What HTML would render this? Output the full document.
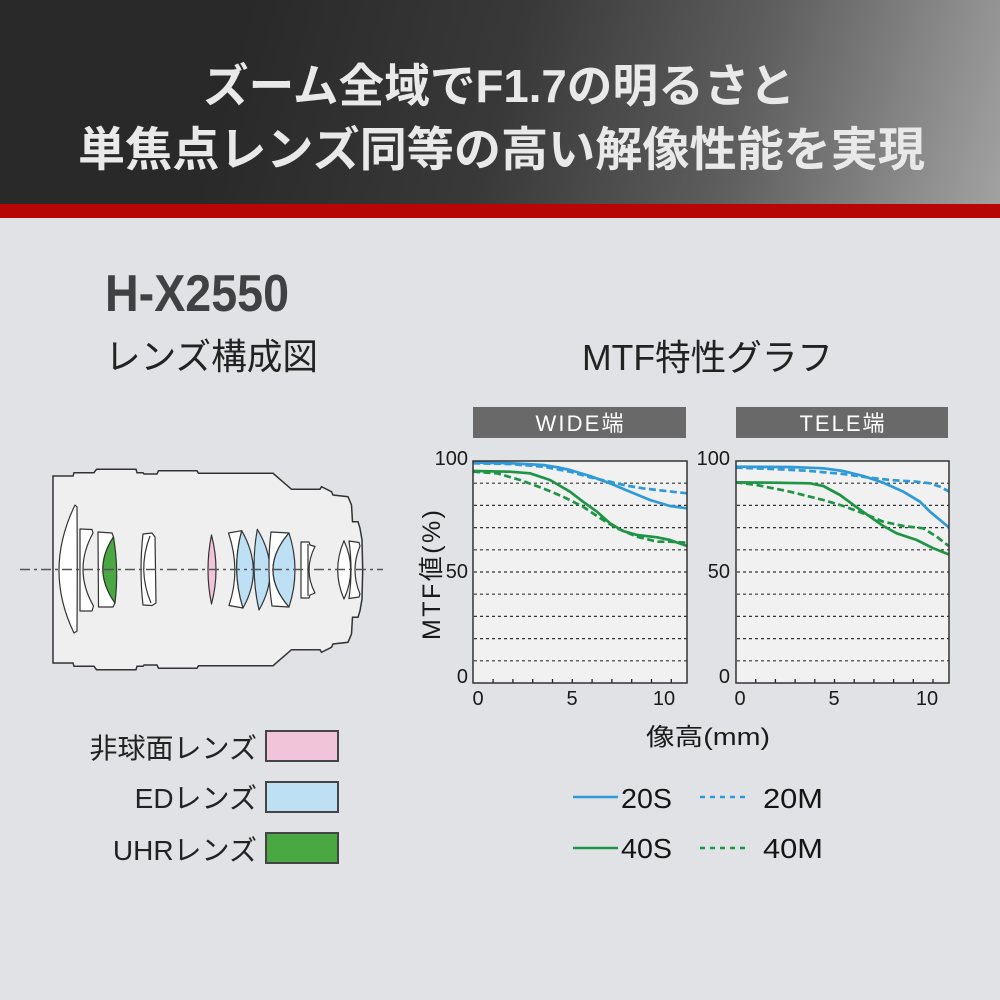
<!DOCTYPE html>
<html><head><meta charset="utf-8"><style>
html,body{margin:0;padding:0;background:#e1e2e5;}
svg{display:block;}
text{font-family:"Liberation Sans","Noto Sans CJK JP",sans-serif;}
</style></head><body>
<svg width="1000" height="1000" viewBox="0 0 1000 1000" xmlns="http://www.w3.org/2000/svg">
<defs>
<linearGradient id="hg" gradientUnits="userSpaceOnUse" x1="250" y1="0" x2="1000" y2="210">
<stop offset="0" stop-color="#292929"/>
<stop offset="0.35" stop-color="#393939"/>
<stop offset="0.65" stop-color="#5e5e5e"/>
<stop offset="1" stop-color="#a2a2a2"/>
</linearGradient>
<clipPath id="cw"><rect x="473" y="461" width="214" height="222"/></clipPath>
<clipPath id="ct"><rect x="736" y="461" width="213" height="222"/></clipPath>
</defs>
<rect x="0" y="0" width="1000" height="1000" fill="#e1e2e5"/>
<rect x="0" y="0" width="1000" height="205" fill="url(#hg)"/>
<rect x="0" y="204" width="1000" height="14" fill="#b80505"/>
<text x="203" y="102" font-size="46" font-weight="bold" fill="#e9e9e9" textLength="592" lengthAdjust="spacingAndGlyphs">ズーム全域でF1.7の明るさと</text>
<text x="78" y="166" font-size="47" font-weight="bold" fill="#e9e9e9" textLength="847" lengthAdjust="spacingAndGlyphs">単焦点レンズ同等の高い解像性能を実現</text>
<text x="105" y="311" font-size="52" font-weight="bold" fill="#3f4143" textLength="184" lengthAdjust="spacingAndGlyphs">H-X2550</text>
<text x="105" y="369" font-size="36" fill="#222" textLength="213" lengthAdjust="spacingAndGlyphs">レンズ構成図</text>
<text x="582" y="370" font-size="36" fill="#222" textLength="251" lengthAdjust="spacingAndGlyphs">MTF特性グラフ</text>
<path d="M53,476 L73,476 L74,472.7 L94,472.7 L96.5,469.3 L136,469.3 L137,472.7 L143,472.7 L144,474 L157,474 L158.5,470.7 L197,470.7 L198.5,473.3 L273,473.3 L291.5,489.3 L320,489.3 L321.5,486.7 L331.5,491.7 L333,495 L348,496.7 L351.5,505 L352.5,521.7 L358,521.7 L360,528.3 L362,540 L362.7,569.5 L362,599 L360,610.7 L358,617.3 L352.5,617.3 L351.5,634 L348,642.3 L333,644 L331.5,647.3 L321.5,652.3 L320,649.7 L291.5,649.7 L273,665.7 L198.5,665.7 L197,668.3 L158.5,668.3 L157,665 L144,665 L143,666.3 L137,666.3 L136,669.7 L96.5,669.7 L94,666.3 L74,666.3 L73,663 L53,663 Z" fill="#efefef" stroke="#333" stroke-width="1.5"/>
<g stroke="#333" stroke-width="1.2" fill="#fff" stroke-linejoin="round">
<path d="M75,505 Q43.5,570 74,633 L77,631 Q77.5,570 77,507 Z"/>
<path d="M80,529 L92,529.5 L93,533 Q72.75,570 93.5,606 L92,611 L80,611 Z"/>
<path d="M98,532 L112,533 L113.5,537 Q91.5,570 115,603 L113,607 L98.5,607 Z"/>
<path d="M113.5,537 Q91.5,570 115,603 Q119,570 113.5,537 Z" fill="#4aa843"/>
<path d="M143,534 L152,533 L155,537 L156,603 L152,605.5 L143,605 Q139,570 143,534 Z"/>
<path d="M150,536 Q137,570 151,603" fill="none"/>
<path d="M211.5,535 Q204.5,570 211.5,604 Q220.5,570 211.5,535 Z" fill="#f2c4d9"/>
<path d="M228.5,533 L241.7,530.7 Q231,570 243,608 L229,605.5 Q241,570 228.5,533 Z"/>
<path d="M241.7,530.7 Q231,570 243,608 Q264.3,570 241.7,530.7 Z" fill="#bde0f5"/>
<path d="M257.3,529.3 Q250,570 259,610 Q282,570 257.3,529.3 Z" fill="#bde0f5"/>
<path d="M271,532 L289,533 Q257,570 289,607 L272,606 Q266.5,570 271,532 Z"/>
<path d="M289,533 Q257,570 289,607 Q301,570 289,533 Z" fill="#bde0f5"/>
<path d="M301,542 L309,542 L310,545 L315,546.5 Q303,570 315,593 L310,595 L309,598 L301,598 Z"/>
<path d="M308,544 L308,596" fill="none"/>
<path d="M344,540.7 Q331.4,570 344,599 Q357.4,570 344,540.7 Z"/>
<path d="M349,541 L359,542.5 L360,546 Q350,570 360,594 L359,597 L349,598.5 Q353,570 349,541 Z"/>
</g>
<line x1="20" y1="569.5" x2="383" y2="569.5" stroke="#555" stroke-width="1.5" stroke-dasharray="10 4 3 4"/>
<rect x="266" y="731" width="72" height="30" fill="#f2c4d9" stroke="#444" stroke-width="2"/>
<rect x="266" y="782" width="72" height="30" fill="#bde0f5" stroke="#444" stroke-width="2"/>
<rect x="266" y="833" width="72" height="30" fill="#4aa843" stroke="#444" stroke-width="2"/>
<g font-size="28" fill="#222" text-anchor="end">
<text x="257" y="758">非球面レンズ</text>
<text x="257" y="808">EDレンズ</text>
<text x="257" y="860">UHRレンズ</text>
</g>
<!-- WIDE chart -->
<rect x="473" y="407" width="213" height="31" fill="#696969"/>
<text x="579.5" y="431" font-size="22" fill="#fff" text-anchor="middle" textLength="88" lengthAdjust="spacing">WIDE端</text>
<rect x="473" y="461" width="214" height="222" fill="#f1f1f1"/>
<g stroke="#333" stroke-width="1.2" stroke-dasharray="3 3">
<line x1="474" y1="483.2" x2="687" y2="483.2"/><line x1="474" y1="505.4" x2="687" y2="505.4"/><line x1="474" y1="527.6" x2="687" y2="527.6"/><line x1="474" y1="549.8" x2="687" y2="549.8"/><line x1="474" y1="572" x2="687" y2="572"/><line x1="474" y1="594.2" x2="687" y2="594.2"/><line x1="474" y1="616.4" x2="687" y2="616.4"/><line x1="474" y1="638.6" x2="687" y2="638.6"/><line x1="474" y1="660.8" x2="687" y2="660.8"/>
</g>
<g stroke="#222" stroke-width="1.3">
<line x1="493.1" y1="683" x2="493.1" y2="679"/><line x1="512.9" y1="683" x2="512.9" y2="679"/><line x1="532.7" y1="683" x2="532.7" y2="679"/><line x1="552.5" y1="683" x2="552.5" y2="679"/><line x1="572.3" y1="683" x2="572.3" y2="679"/><line x1="592.1" y1="683" x2="592.1" y2="679"/><line x1="611.9" y1="683" x2="611.9" y2="679"/><line x1="631.7" y1="683" x2="631.7" y2="679"/><line x1="651.5" y1="683" x2="651.5" y2="679"/><line x1="671.3" y1="683" x2="671.3" y2="679"/>
</g>
<g clip-path="url(#cw)" fill="none" stroke-width="2.7" stroke-linejoin="round" stroke-linecap="butt">
<polyline stroke="#2e9ad8" points="473,462.7 510,463.2 543,465 558,467.3 570,470 590,476 610,483.3 630,491.7 650,500 670,506 687,508.3"/>
<polyline stroke="#2e9ad8" stroke-dasharray="7 3.5" points="473,463.3 510,464 543,466.7 570,471.7 590,477.3 610,481.7 627,485.7 643,488.3 663,490.7 687,493.3"/>
<polyline stroke="#1e9445" points="473,471 510,471.7 530,473.3 550,480 570,491.7 583,501.7 597,511.7 610,523.3 623,531 637,535 657,537.3 670,540 687,546"/>
<polyline stroke="#1e9445" stroke-dasharray="7 3.5" points="473,471.7 497,473.3 520,480 543,488.3 563,496.7 583,506.7 603,520 617,528.3 637,536.7 657,541.7 670,541.7 687,542.7"/>
</g>
<rect x="473" y="461" width="214" height="222" fill="none" stroke="#333" stroke-width="1.5"/>
<g font-size="20" fill="#1a1a1a">
<text x="468" y="465" text-anchor="end">100</text>
<text x="468" y="578" text-anchor="end">50</text>
<text x="468" y="683" text-anchor="end">0</text>
<text x="478" y="705" text-anchor="middle">0</text>
<text x="572" y="705" text-anchor="middle">5</text>
<text x="664" y="705" text-anchor="middle">10</text>
</g>
<text transform="translate(440,575) rotate(-90)" font-size="25" fill="#1a1a1a" text-anchor="middle" textLength="130" lengthAdjust="spacing">MTF値(%)</text>
<!-- TELE chart -->
<rect x="736" y="407" width="212" height="31" fill="#696969"/>
<text x="842" y="431" font-size="22" fill="#fff" text-anchor="middle" textLength="85" lengthAdjust="spacing">TELE端</text>
<rect x="736" y="461" width="213" height="222" fill="#f1f1f1"/>
<g stroke="#333" stroke-width="1.2" stroke-dasharray="3 3">
<line x1="737" y1="483.2" x2="949" y2="483.2"/><line x1="737" y1="505.4" x2="949" y2="505.4"/><line x1="737" y1="527.6" x2="949" y2="527.6"/><line x1="737" y1="549.8" x2="949" y2="549.8"/><line x1="737" y1="572" x2="949" y2="572"/><line x1="737" y1="594.2" x2="949" y2="594.2"/><line x1="737" y1="616.4" x2="949" y2="616.4"/><line x1="737" y1="638.6" x2="949" y2="638.6"/><line x1="737" y1="660.8" x2="949" y2="660.8"/>
</g>
<g stroke="#222" stroke-width="1.3">
<line x1="755.7" y1="683" x2="755.7" y2="679"/><line x1="775.4" y1="683" x2="775.4" y2="679"/><line x1="795.1" y1="683" x2="795.1" y2="679"/><line x1="814.8" y1="683" x2="814.8" y2="679"/><line x1="834.5" y1="683" x2="834.5" y2="679"/><line x1="854.2" y1="683" x2="854.2" y2="679"/><line x1="873.9" y1="683" x2="873.9" y2="679"/><line x1="893.6" y1="683" x2="893.6" y2="679"/><line x1="913.3" y1="683" x2="913.3" y2="679"/><line x1="933" y1="683" x2="933" y2="679"/>
</g>
<g clip-path="url(#ct)" fill="none" stroke-width="2.7" stroke-linejoin="round">
<polyline stroke="#2e9ad8" points="735.7,466.7 790,467 823.3,468.3 843.3,471 863.3,476 883.3,482.7 903.3,491.7 920,501.7 930,511.7 940,520 950,528.3"/>
<polyline stroke="#2e9ad8" stroke-dasharray="7 3.5" points="735.7,467.7 773.3,469 806.7,470.7 843.3,474 866.7,477.3 890,480 916.7,481.7 930,483.3 940,486.7 950,492"/>
<polyline stroke="#1e9445" points="735.7,482.3 773.3,482.7 810,483.3 823.3,486 840,495 856.7,507.3 870,516.7 883.3,526 896.7,533.3 916.7,540 933.3,548.3 950,555"/>
<polyline stroke="#1e9445" stroke-dasharray="7 3.5" points="735.7,482.3 756.7,485 790,491.7 823.3,500 843.3,506 863.3,513.3 883.3,521.7 903.3,526 923.3,528.3 936.7,536.7 950,547"/>
</g>
<rect x="736" y="461" width="213" height="222" fill="none" stroke="#333" stroke-width="1.5"/>
<g font-size="20" fill="#1a1a1a">
<text x="730" y="465" text-anchor="end">100</text>
<text x="730" y="578" text-anchor="end">50</text>
<text x="730" y="683" text-anchor="end">0</text>
<text x="740" y="705" text-anchor="middle">0</text>
<text x="834" y="705" text-anchor="middle">5</text>
<text x="927" y="705" text-anchor="middle">10</text>
</g>
<text x="646" y="745" font-size="24" fill="#1a1a1a" textLength="124" lengthAdjust="spacingAndGlyphs">像高(mm)</text>
<line x1="573" y1="797" x2="618" y2="797" stroke="#2e9ad8" stroke-width="2.5"/>
<line x1="700" y1="797" x2="745" y2="797" stroke="#2e9ad8" stroke-width="2.5" stroke-dasharray="5 5"/>
<line x1="573" y1="848" x2="618" y2="848" stroke="#1e9445" stroke-width="2.5"/>
<line x1="700" y1="848" x2="745" y2="848" stroke="#1e9445" stroke-width="2.5" stroke-dasharray="5 5"/>
<g font-size="28" fill="#151515">
<text x="621" y="808" textLength="51" lengthAdjust="spacingAndGlyphs">20S</text>
<text x="763" y="808" textLength="60" lengthAdjust="spacingAndGlyphs">20M</text>
<text x="621" y="858" textLength="51" lengthAdjust="spacingAndGlyphs">40S</text>
<text x="763" y="858" textLength="60" lengthAdjust="spacingAndGlyphs">40M</text>
</g>
</svg>
</body></html>
